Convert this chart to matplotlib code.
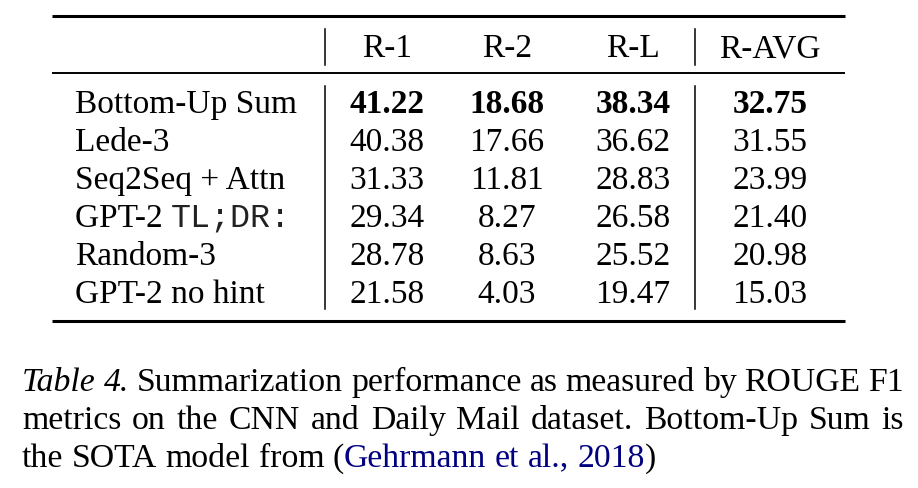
import matplotlib
matplotlib.use("Agg")
import matplotlib.pyplot as plt

# table data
models = ["Bottom-Up Sum", "Lede-3", "Seq2Seq + Attn", "GPT-2 TL;DR:", "Random-3", "GPT-2 no hint"]
metrics = ["R-1", "R-2", "R-L", "R-AVG"]
r1 = [41.22, 40.38, 31.33, 29.34, 28.78, 21.58]
r2 = [18.68, 17.66, 11.81, 8.27, 8.63, 4.03]
rl = [38.34, 36.62, 28.83, 26.58, 25.52, 19.47]
ravg = [32.75, 31.55, 23.99, 21.40, 20.98, 15.03]
best_row = 0

caption = [
    [[("Table", "it")], [("4.", "it")], [("Summarization", "rm")], [("performance", "rm")],
     [("as", "rm")], [("measured", "rm")], [("by", "rm")], [("ROUGE", "rm")], [("F1", "rm")]],
    [[("metrics", "rm")], [("on", "rm")], [("the", "rm")], [("CNN", "rm")], [("and", "rm")],
     [("Daily", "rm")], [("Mail", "rm")], [("dataset.", "rm")], [("Bottom-Up", "rm")],
     [("Sum", "rm")], [("is", "rm")]],
    [[("the", "rm")], [("SOTA", "rm")], [("model", "rm")], [("from", "rm")],
     [("(", "rm"), ("Gehrmann", "link")], [("et", "link")], [("al.,", "link")],
     [("2018", "link"), (")", "rm")]],
]

SERIF = "Liberation Serif"
MONO = "Liberation Mono"
FS = 24
CAP_FS = 24.3
LINK = "#000080"

fig = plt.figure(figsize=(9.18, 4.89), dpi=100)
ax = fig.add_axes([0, 0, 1, 1])
ax.set_xlim(0, 918)
ax.set_ylim(489, 0)
ax.axis("off")
renderer = fig.canvas.get_renderer()


def width(txt, **kw):
    t = ax.text(0, 0, txt, **kw)
    w = t.get_window_extent(renderer).width
    t.remove()
    return w


# rules
x_left, x_right = 52, 845
ax.plot([x_left, x_right], [17, 17], color="black", lw=2.2, solid_capstyle="butt")
ax.plot([x_left, x_right], [74, 74], color="black", lw=1.4, solid_capstyle="butt")
ax.plot([x_left, x_right], [322, 322], color="black", lw=2.2, solid_capstyle="butt")

# vertical separators
for vx in [325, 695]:
    ax.plot([vx, vx], [30, 66], color="black", lw=1.1)
    ax.plot([vx, vx], [87, 310], color="black", lw=1.1)

col_x = [387, 507, 633, 770]
head_base = 57
row_base = [113, 151, 189, 227, 265, 303]

for cx, m in zip(col_x, metrics):
    ax.text(cx, head_base, m, ha="center", va="baseline", fontsize=FS, family=SERIF)

cols = [r1, r2, rl, ravg]
for i, name in enumerate(models):
    yb = row_base[i]
    if "TL;DR:" in name:
        pre = name.replace("TL;DR:", "")
        ax.text(75, yb, pre, ha="left", va="baseline", fontsize=FS, family=SERIF)
        w = width(pre.strip(), fontsize=FS, family=SERIF) + width("a a", fontsize=FS, family=SERIF) \
            - width("aa", fontsize=FS, family=SERIF)
        ax.text(75 + w, yb, "TL;DR:", ha="left", va="baseline", fontsize=FS, family=MONO,
                color="#222222")
    else:
        ax.text(75, yb, name, ha="left", va="baseline", fontsize=FS, family=SERIF)
    for cx, col in zip(col_x, cols):
        ax.text(cx, yb, f"{col[i]:.2f}", ha="center", va="baseline", fontsize=FS, family=SERIF,
                fontweight="bold" if i == best_row else "normal")

# caption, justified
styles = {
    "rm": dict(family=SERIF, color="black"),
    "it": dict(family=SERIF, color="black", style="italic"),
    "link": dict(family=SERIF, color=LINK),
}
cap_x0, cap_x1 = 22, 904
cap_base = [391, 429, 467]
space = width("a a", fontsize=CAP_FS, family=SERIF) - width("aa", fontsize=CAP_FS, family=SERIF)
for li, line in enumerate(caption):
    word_w = []
    for word in line:
        word_w.append(sum(width(s, fontsize=CAP_FS, **styles[st]) for s, st in word))
    if li < len(caption) - 1:
        gap = (cap_x1 - cap_x0 - sum(word_w)) / (len(line) - 1)
    else:
        gap = space
    x = cap_x0
    for word, ww in zip(line, word_w):
        xx = x
        for s, st in word:
            ax.text(xx, cap_base[li], s, ha="left", va="baseline", fontsize=CAP_FS, **styles[st])
            xx += width(s, fontsize=CAP_FS, **styles[st])
        x += ww + gap

fig.savefig("out.png", dpi=100)
